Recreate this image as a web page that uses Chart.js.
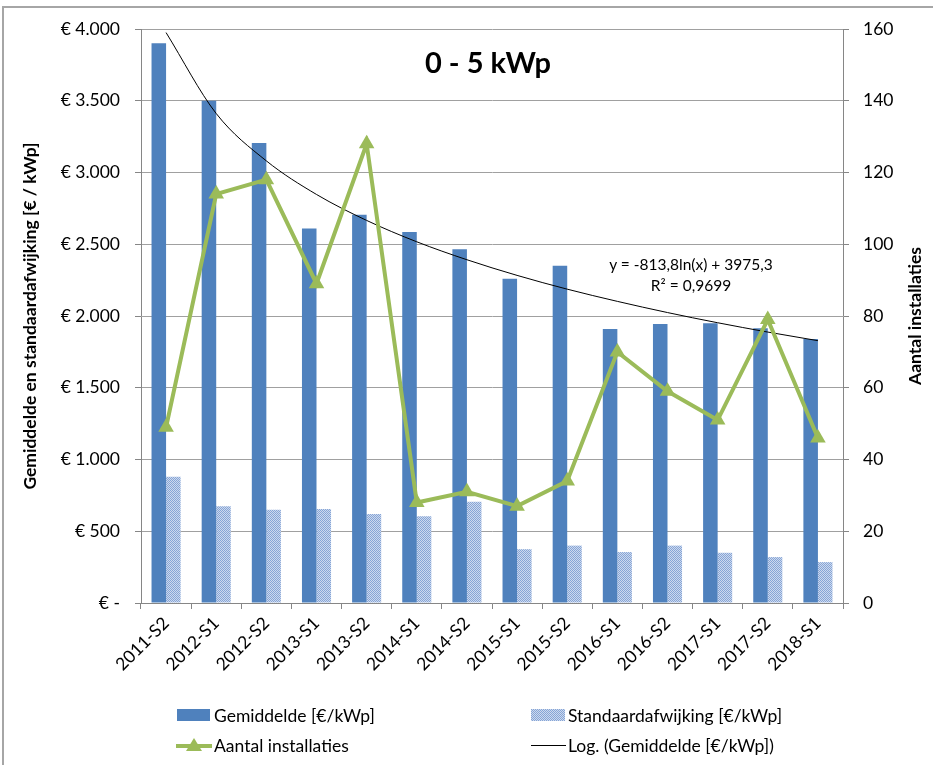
<!DOCTYPE html>
<html>
<head>
<meta charset="utf-8">
<script src="https://cdn.jsdelivr.net/npm/chart.js@4"></script>
<style>
  html, body { margin: 0; padding: 0; background: #fff; overflow: hidden; }
  #wrap { position: relative; width: 933px; height: 765px; font-family: Lato, "Open Sans", sans-serif; color: #000; }
  #frame { position: absolute; left: 2px; top: 6px; width: 1000px; height: 900px; border-left: 2px solid #a6a6a6; border-top: 2px solid #a6a6a6; box-sizing: border-box; pointer-events: none; }
  canvas { position: absolute; left: 0; top: 0; }
  .txt { position: absolute; white-space: nowrap; }
  #title { left: 488px; top: 61px; transform: translate(-50%, -50%); font-weight: bold; font-size: 29px; }
  .eq { font-size: 15.5px; transform: translate(-50%, -50%); left: 691px; }
  #rtitle { left: 914px; top: 316px; transform: translate(-50%, -50%) rotate(-90deg); font-weight: bold; font-size: 17.5px; }
  .leg { font-size: 17.5px; transform: translateY(-50%); }
  .sw { position: absolute; }
</style>
</head>
<body>
<div id="wrap">
  <canvas id="c" width="933" height="765"></canvas>
  <div id="frame"></div>
  <div id="title" class="txt">0 - 5 kWp</div>
  <div class="txt eq" style="top:264px">y = -813,8ln(x) + 3975,3</div>
  <div class="txt eq" style="top:285px">R² = 0,9699</div>
  <div id="rtitle" class="txt">Aantal installaties</div>

  <div class="sw" style="left:177px; top:709px; width:33px; height:12px; background:#4F81BD"></div>
  <div class="txt leg" style="left:214px; top:715px">Gemiddelde [€/kWp]</div>
  <canvas id="patsw" class="sw" width="34" height="12" style="left:531px; top:709px"></canvas>
  <div class="txt leg" style="left:568px; top:715px">Standaardafwijking [€/kWp]</div>

  <svg class="sw" style="left:176px; top:737px" width="36" height="16">
    <line x1="0" y1="9" x2="36" y2="9" stroke="#9BBB59" stroke-width="4"/>
    <polygon points="18,1 26,14 10,14" fill="#9BBB59"/>
  </svg>
  <div class="txt leg" style="left:214px; top:745px">Aantal installaties</div>
  <svg class="sw" style="left:531px; top:737px" width="35" height="16">
    <line x1="0" y1="8.5" x2="35" y2="8.5" stroke="#000" stroke-width="1"/>
  </svg>
  <div class="txt leg" style="left:568px; top:745px">Log. (Gemiddelde [€/kWp])</div>
</div>
<script>
const categories = ['2011-S2','2012-S1','2012-S2','2013-S1','2013-S2','2014-S1','2014-S2','2015-S1','2015-S2','2016-S1','2016-S2','2017-S1','2017-S2','2018-S1'];
const gemiddelde = [3900, 3500, 3205, 2610, 2705, 2585, 2465, 2260, 2350, 1910, 1945, 1950, 1915, 1840];
const standaardafwijking = [880, 675, 650, 655, 620, 605, 705, 375, 400, 355, 400, 350, 320, 285];
const aantalInstallaties = [49, 114, 118, 89, 128, 28, 31, 27, 34, 70, 59, 51, 79, 46];
const logTrend = [3975, 3411, 3081, 2847, 2666, 2517, 2392, 2283, 2187, 2102, 2024, 1953, 1888, 1828];
const leftTickLabels = ['€ -','€ 500','€ 1.000','€ 1.500','€ 2.000','€ 2.500','€ 3.000','€ 3.500','€ 4.000'];
const rightTickLabels = ['0','20','40','60','80','100','120','140','160'];

function makePattern() {
  const p = document.createElement('canvas');
  p.width = 2; p.height = 2;
  const g = p.getContext('2d');
  g.fillStyle = '#cdd9ee'; g.fillRect(0,0,2,2);
  g.fillStyle = '#86a5d6'; g.fillRect(0,0,1,1); g.fillRect(1,1,1,1);
  return p;
}
const patCanvas = makePattern();
const ctx = document.getElementById('c').getContext('2d');
const pattern = ctx.createPattern(patCanvas, 'repeat');
const sw = document.getElementById('patsw').getContext('2d');
sw.fillStyle = sw.createPattern(patCanvas, 'repeat'); sw.fillRect(0,0,34,12);

const FONT = 'Lato, "Open Sans", sans-serif';
const AXIS = '#868686';

new Chart(ctx, {
  type: 'bar',
  data: {
    labels: categories,
    datasets: [
      { type: 'line', label: 'Aantal installaties', data: aantalInstallaties, yAxisID: 'y1',
        borderColor: '#9BBB59', backgroundColor: '#9BBB59', borderWidth: 4, pointStyle: 'triangle',
        pointRadius: 9, pointBorderWidth: 0, pointBackgroundColor: '#9BBB59', tension: 0, order: 0 },
      { type: 'line', label: 'Log. (Gemiddelde [€/kWp])', data: logTrend, yAxisID: 'y',
        borderColor: '#000', borderWidth: 1, pointRadius: 0, cubicInterpolationMode: 'monotone', order: 1 },
      { label: 'Gemiddelde [€/kWp]', data: gemiddelde, yAxisID: 'y', backgroundColor: '#4F81BD',
        categoryPercentage: 0.58, barPercentage: 1, order: 2 },
      { label: 'Standaardafwijking [€/kWp]', data: standaardafwijking, yAxisID: 'y', backgroundColor: pattern,
        categoryPercentage: 0.58, barPercentage: 1, order: 3 }
    ]
  },
  options: {
    responsive: false,
    animation: false,
    layout: { padding: { top: 29, left: 0, right: 0, bottom: 0 } },
    plugins: { legend: { display: false }, tooltip: { enabled: false }, title: { display: false } },
    scales: {
      x: {
        grid: { offset: true, drawOnChartArea: false, drawTicks: true, tickLength: 6, color: AXIS },
        border: { color: AXIS },
        ticks: { maxRotation: 45, minRotation: 45, padding: 4, color: '#000', font: { family: FONT, size: 17.5 } },
        afterFit: s => { s.height = 162; }
      },
      y: {
        position: 'left', min: 0, max: 4000,
        ticks: { stepSize: 500, padding: 15, color: '#000', font: { family: FONT, size: 17.5 },
          callback: (v, i) => leftTickLabels[i] },
        grid: { color: '#a0a0a0', tickLength: 6, tickColor: AXIS },
        border: { color: AXIS },
        title: { display: true, text: 'Gemiddelde en standaardafwijking [€ / kWp]', color: '#000',
          font: { family: FONT, size: 17.5, weight: 'bold' }, padding: { top: 20, bottom: 0 } },
        afterFit: s => { s.width = 141; }
      },
      y1: {
        position: 'right', min: 0, max: 160,
        ticks: { stepSize: 20, padding: 14, color: '#000', font: { family: FONT, size: 17.5 },
          callback: (v, i) => rightTickLabels[i] },
        grid: { drawOnChartArea: false, tickLength: 6, color: AXIS },
        border: { color: AXIS },
        afterFit: s => { s.width = 90; }
      }
    }
  }
});
</script>
</body>
</html>
